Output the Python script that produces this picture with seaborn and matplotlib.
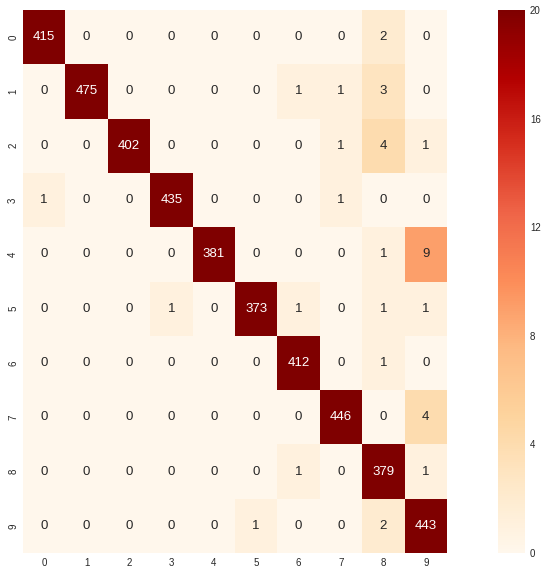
import numpy as np
import matplotlib
matplotlib.use("Agg")
import matplotlib.pyplot as plt
import seaborn as sns

labels = list(range(10))
row_0 = [415, 0, 0, 0, 0, 0, 0, 0, 2, 0]
row_1 = [0, 475, 0, 0, 0, 0, 1, 1, 3, 0]
row_2 = [0, 0, 402, 0, 0, 0, 0, 1, 4, 1]
row_3 = [1, 0, 0, 435, 0, 0, 0, 1, 0, 0]
row_4 = [0, 0, 0, 0, 381, 0, 0, 0, 1, 9]
row_5 = [0, 0, 0, 1, 0, 373, 1, 0, 1, 1]
row_6 = [0, 0, 0, 0, 0, 0, 412, 0, 1, 0]
row_7 = [0, 0, 0, 0, 0, 0, 0, 446, 0, 4]
row_8 = [0, 0, 0, 0, 0, 0, 1, 0, 379, 1]
row_9 = [0, 0, 0, 0, 0, 1, 0, 0, 2, 443]

cm = np.array([row_0, row_1, row_2, row_3, row_4,
               row_5, row_6, row_7, row_8, row_9])

sns.set_style("darkgrid")
plt.rcParams['font.family'] = ['Liberation Sans', 'DejaVu Sans']

fig = plt.figure(figsize=(5.5, 5.77), dpi=100)
ax = fig.add_axes([23 / 550, 24 / 577, 424 / 550, 543 / 577])
cax = fig.add_axes([498 / 550, 24 / 577, 27 / 550, 543 / 577])

sns.heatmap(cm, annot=True, fmt='d', cmap='OrRd', vmin=0, vmax=20,
            ax=ax, cbar_ax=cax, xticklabels=labels, yticklabels=labels,
            annot_kws={'fontsize': 9.5})
ax.tick_params(axis='both', labelsize=7, length=0)
cax.tick_params(labelsize=7, length=0)
cax.set_yticks([0, 4, 8, 12, 16, 20])
for sp in cax.spines.values():
    sp.set_visible(False)

fig.savefig('out.png', dpi=100)
